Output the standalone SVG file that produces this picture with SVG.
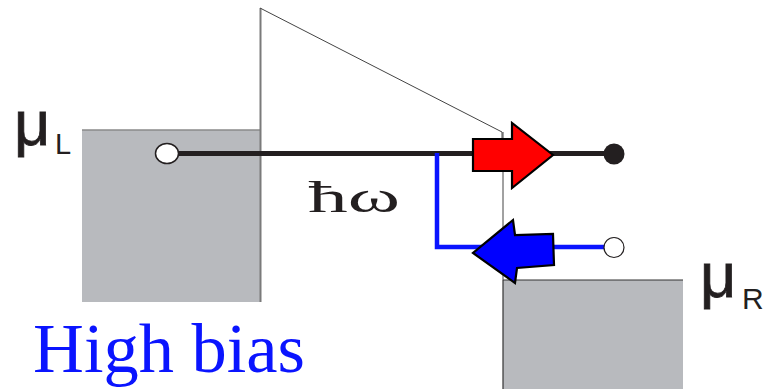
<svg xmlns="http://www.w3.org/2000/svg" width="771" height="389" viewBox="0 0 771 389">
<style>
.box{fill:#b8babe}
.edge{stroke:#8a8a8a;stroke-width:1.5;fill:none}
.barrier{stroke:#444;stroke-width:1;fill:none}
.lbl{font-family:"Liberation Sans",Arial,sans-serif;fill:#231f20}
.mu{stroke:#231f20;stroke-width:0.8}
.wire{stroke:#231f20;stroke-width:5;fill:none}
.bwire{stroke:#0a14ff;stroke-width:4.5;fill:none}
</style>
<rect width="771" height="389" fill="#fff"/>
<g id="left-lead">
<rect class="box" x="82" y="130" width="178" height="172"/>
<line class="edge" x1="82" y1="130" x2="260" y2="130"/>
</g>
<g id="right-lead">
<rect class="box" x="503" y="280" width="180" height="109"/>
<line x1="503" y1="280" x2="683" y2="280" stroke="#333" stroke-width="1.2"/>
<line x1="503" y1="280" x2="503" y2="389" stroke="#333" stroke-width="1.2"/>
</g>
<g id="barrier">
<line x1="260.5" y1="8" x2="260.5" y2="302" stroke="#7a7a7a" stroke-width="2"/>
<polyline class="barrier" points="260,8 502,132 502,140"/>
<line class="barrier" x1="503" y1="132" x2="503" y2="280"/>
</g>
<g id="connectors">
<line class="wire" x1="175" y1="153.5" x2="612" y2="153.5"/>
<polyline class="bwire" points="437,153 437,247 606,247"/>
</g>
<g id="node-left-state">
<ellipse cx="167" cy="153.5" rx="11.5" ry="10" fill="#fff" stroke="#231f20" stroke-width="1.5"/>
</g>
<g id="node-right-filled">
<circle cx="614" cy="154" r="10.5" fill="#231f20"/>
</g>
<g id="node-right-empty">
<circle cx="614" cy="247.5" r="10" fill="#fff" stroke="#231f20" stroke-width="1.2"/>
</g>
<g id="red-arrow">
<polygon points="473,139 512,139 512,123 553,155 512,188 512,171 473,171" fill="#ff0000" stroke="#000" stroke-width="2.2" stroke-linejoin="miter"/>
</g>
<g id="blue-arrow">
<polygon points="553,234 554,265 517,268 515,283 473,253 513,220 515,235" fill="#0000ff" stroke="#000" stroke-width="2.2" stroke-linejoin="miter"/>
</g>
<g id="labels">
<text class="lbl mu" x="14" y="145" font-size="63">μ</text>
<text class="lbl" x="55" y="154" font-size="29">L</text>
<text class="lbl mu" x="700" y="297" font-size="63">μ</text>
<text class="lbl" x="742" y="309" font-size="30">R</text>
<text x="308" y="212" font-family="'Liberation Serif','Times New Roman',serif" font-size="44" fill="#231f20" textLength="92" lengthAdjust="spacingAndGlyphs">ħω</text>
<text x="33" y="372" font-family="'Liberation Serif','Times New Roman',serif" font-size="70" fill="#0a14ff" textLength="272" lengthAdjust="spacingAndGlyphs">High bias</text>
</g>
</svg>
